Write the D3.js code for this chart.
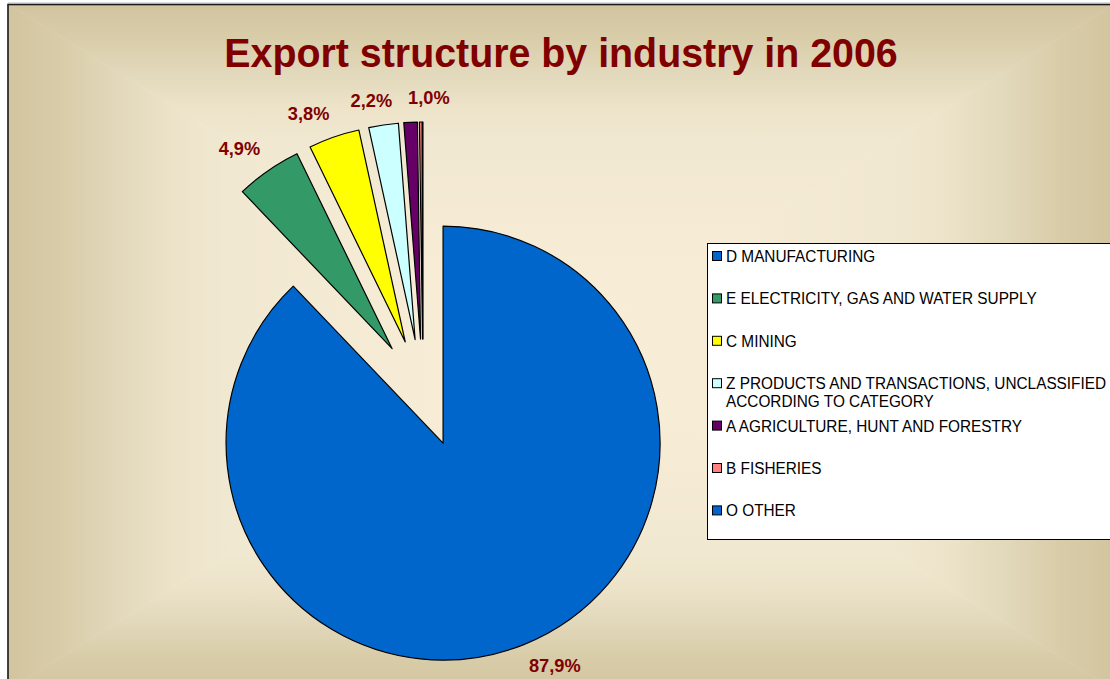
<!DOCTYPE html>
<html>
<head>
<meta charset="utf-8">
<script src="https://cdn.jsdelivr.net/npm/d3@7/dist/d3.min.js"></script>
<style>
  html, body { margin: 0; padding: 0; background: #ffffff; }
  svg { display: block; }
  text { font-family: "Liberation Sans", Arial, sans-serif; }
</style>
</head>
<body>
<svg id="chart" width="1110" height="679"></svg>
<script>
// Export structure by industry, 2006 (shares in %)
const categories = [
  "D MANUFACTURING",
  "E ELECTRICITY, GAS AND WATER SUPPLY",
  "C MINING",
  "Z PRODUCTS AND TRANSACTIONS, UNCLASSIFIED ACCORDING TO CATEGORY",
  "A AGRICULTURE, HUNT AND FORESTRY",
  "B FISHERIES",
  "O OTHER"
];
const shares = [87.9, 4.9, 3.8, 2.2, 1.0, 0.2, 0.03];
const sliceColors = ["#0066cc", "#339966", "#ffff00", "#ccffff", "#660066", "#ff8080", "#0066cc"];
const titleText = "Export structure by industry in 2006";

const W = 1110, H = 679;
const svg = d3.select("#chart");
const defs = svg.append("defs");

// ---- chart area with a rectangular "from centre" gradient ----
const area = { x: 8, y: 4, w: 1106, h: 686 };
const cx = area.x + area.w / 2, cy = area.y + area.h / 2;
const stops = [
  [0, "#f9edd5"], [0.3, "#f6ecd5"], [0.6, "#f1e8d1"], [0.7, "#ece3c9"],
  [0.8, "#e2d8bb"], [0.9, "#d9cda9"], [1, "#d2c49f"]
];
const L = area.x, R = area.x + area.w, T = area.y, B = area.y + area.h;
const sides = [
  { id: "gTop", to: [cx, T], pts: [[cx, cy], [L, T], [R, T]] },
  { id: "gBottom", to: [cx, B], pts: [[cx, cy], [L, B], [R, B]] },
  { id: "gLeft", to: [L, cy], pts: [[cx, cy], [L, T], [L, B]] },
  { id: "gRight", to: [R, cy], pts: [[cx, cy], [R, T], [R, B]] }
];
sides.forEach(s => {
  const g = defs.append("linearGradient").attr("id", s.id)
    .attr("gradientUnits", "userSpaceOnUse")
    .attr("x1", cx).attr("y1", cy).attr("x2", s.to[0]).attr("y2", s.to[1]);
  stops.forEach(([o, c]) => g.append("stop").attr("offset", o).attr("stop-color", c));
  svg.append("polygon")
    .attr("points", s.pts.map(p => p.join(",")).join(" "))
    .attr("fill", `url(#${s.id})`)
    .attr("stroke", `url(#${s.id})`).attr("stroke-width", 0.6);
});
svg.append("rect")
  .attr("x", area.x).attr("y", area.y + 0.5).attr("width", area.w).attr("height", area.h)
  .attr("fill", "none").attr("stroke", "#1a1a1a").attr("stroke-width", 1.6);
svg.append("line").attr("x1", area.x).attr("x2", W).attr("y1", 3).attr("y2", 3)
  .attr("stroke", "#b8b8b8").attr("stroke-width", 1);

// Text drawn slightly condensed horizontally
const XS = 0.96;
function condensedText(parent, x, y, str, opts) {
  const g = parent.append("g").attr("transform", `translate(${x},${y}) scale(${XS},1)`);
  const t = g.append("text").text(str)
    .attr("font-size", opts.size)
    .attr("font-weight", opts.weight || "normal")
    .attr("fill", opts.fill || "#000")
    .attr("text-anchor", opts.anchor || "start");
  return { g, t, width: t.node().getComputedTextLength() * XS };
}

// ---- title ----
condensedText(svg, cx, 67, titleText, { size: 41, weight: "bold", fill: "#800000", anchor: "middle" });

// ---- exploded pie ----
const data = categories.map((c, i) => ({ name: c, value: shares[i], color: sliceColors[i] }));
const radius = 217, explode = 54;
const pieCenter = [423, 393];

const pie = d3.pie().sort(null).value(d => d.value).startAngle(0).endAngle(2 * Math.PI);
const arc = d3.arc().innerRadius(0).outerRadius(radius);
const arcs = pie(data);
const dir = a => [Math.sin(a), -Math.cos(a)];

const pieG = svg.append("g").attr("transform", `translate(${pieCenter[0]},${pieCenter[1]})`);
pieG.selectAll("path.slice")
  .data(arcs)
  .join("path")
  .attr("class", "slice")
  .attr("transform", d => {
    const u = dir((d.startAngle + d.endAngle) / 2);
    return `translate(${u[0] * explode},${u[1] * explode})`;
  })
  .attr("d", arc)
  .attr("fill", d => d.data.color)
  .attr("stroke", "#000")
  .attr("stroke-width", 1.2)
  .attr("stroke-linejoin", "round");

// ---- percentage labels ----
const fmt = v => d3.format(".1f")(v).replace(".", ",") + "%";
const labelR = explode + radius + 14;
const capH = 13.6;
const labels = [];
arcs.forEach(d => {
  if (d.data.value < 0.5) return;
  const u = dir((d.startAngle + d.endAngle) / 2);
  const px = pieCenter[0] + u[0] * labelR, py = pieCenter[1] + u[1] * labelR;
  const lbl = condensedText(svg, 0, 0, fmt(d.data.value), { size: 19, weight: "bold", fill: "#800000", anchor: "middle" });
  const f = Math.max(-1, Math.min(1, u[0] / 0.3));
  const x = px + f * lbl.width / 2;
  const y = u[1] < 0 ? py - 4 : py + capH + 1;
  labels.push({ lbl, x, y, w: lbl.width });
});
// keep neighbouring labels apart
for (let i = 1; i < labels.length; i++) {
  const a = labels[i - 1], b = labels[i];
  if (Math.abs(a.y - b.y) < capH + 4) {
    const minX = a.x + a.w / 2 + 16 + b.w / 2;
    if (b.x < minX) b.x = minX;
  }
}
labels.forEach(l => l.lbl.g.attr("transform", `translate(${l.x},${l.y}) scale(${XS},1)`));

// ---- legend ----
const lg = { x: 707.5, y: 243.5, w: 420, h: 296, rowStep: 42.4, firstBase: 262, textX: 726, lineH: 17.6, maxW: 388 };
svg.append("rect").attr("x", lg.x).attr("y", lg.y).attr("width", lg.w).attr("height", lg.h)
  .attr("fill", "#ffffff").attr("stroke", "#000").attr("stroke-width", 1);

const measure = svg.append("text").attr("font-size", 16).attr("visibility", "hidden");
function wrap(str) {
  const words = str.split(" ");
  const lines = [];
  let cur = "";
  words.forEach(w => {
    const test = cur ? cur + " " + w : w;
    measure.text(test);
    if (cur && measure.node().getComputedTextLength() * XS > lg.maxW) {
      lines.push(cur);
      cur = w;
    } else cur = test;
  });
  if (cur) lines.push(cur);
  return lines;
}

data.forEach((d, i) => {
  const base = lg.firstBase + i * lg.rowStep;
  svg.append("rect")
    .attr("x", 712.5).attr("y", base - 10.5).attr("width", 9).attr("height", 9)
    .attr("fill", d.color).attr("stroke", "#000").attr("stroke-width", 1);
  wrap(d.name).forEach((line, j) => {
    condensedText(svg, lg.textX, base + j * lg.lineH, line, { size: 16, fill: "#000" });
  });
});
measure.remove();
</script>
</body>
</html>
